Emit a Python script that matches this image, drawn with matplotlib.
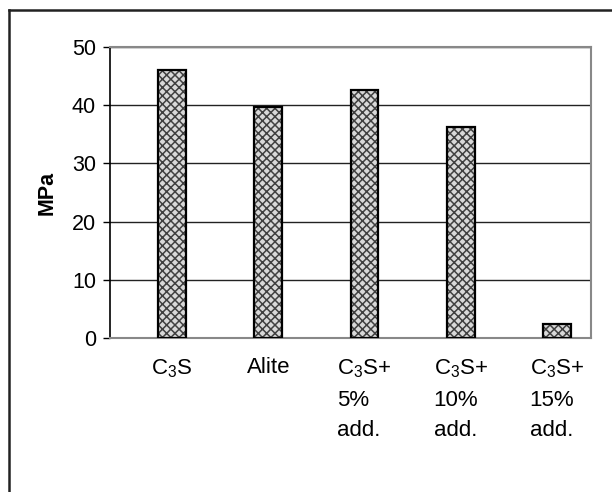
import matplotlib
matplotlib.use("Agg")
import matplotlib.pyplot as plt
from matplotlib.lines import Line2D

plt.rcParams['font.family'] = ['Liberation Sans', 'DejaVu Sans']
plt.rcParams['mathtext.fontset'] = 'custom'
plt.rcParams['mathtext.rm'] = 'Liberation Sans'
plt.rcParams['mathtext.it'] = 'Liberation Sans'
plt.rcParams['hatch.linewidth'] = 1.1

categories = ['C$_3$S', 'Alite', 'C$_3$S+\n5%\nadd.', 'C$_3$S+\n10%\nadd.', 'C$_3$S+\n15%\nadd.']
values = [46.0, 39.7, 42.6, 36.2, 2.4]
yticks = [0, 10, 20, 30, 40, 50]
ylabel = 'MPa'

fig = plt.figure(figsize=(6.12, 4.92), dpi=100)
ax = fig.add_axes([110/612, 1-338/492, (591-110)/612, (338-47)/492])

x = list(range(len(categories)))
ax.bar(x, values, width=0.29, color='#d8d8d8', edgecolor='#404040', hatch='xxxx', linewidth=0, zorder=3)
ax.bar(x, values, width=0.29, fill=False, edgecolor='black', linewidth=1.6, zorder=4)

ax.set_ylim(0, 50)
ax.set_xlim(-0.645, 4.355)
ax.set_yticks(yticks)
ax.yaxis.grid(True, color='#222222', linewidth=1.0, zorder=0)
ax.set_axisbelow(True)

ax.tick_params(axis='y', direction='out', length=5, width=1, pad=5, labelsize=15.5)
ax.set_xticks(x)
ax.set_xticklabels(categories, fontsize=16, linespacing=1.6, ha='center', va='top', multialignment='left')
ax.tick_params(axis='x', length=0, pad=14)

ax.set_ylabel(ylabel, fontsize=15.5, fontweight='bold', labelpad=10)

ax.spines['left'].set_color('black')
ax.spines['left'].set_linewidth(1.2)
for s in ['top', 'right', 'bottom']:
    ax.spines[s].set_color('#888888')
    ax.spines[s].set_linewidth(1.5)

# outer chart border (left and top only visible)
fig.add_artist(Line2D([9/612, 9/612], [0, 1-10/492], transform=fig.transFigure, color='#222222', linewidth=1.8))
fig.add_artist(Line2D([9/612, 1], [1-10/492, 1-10/492], transform=fig.transFigure, color='#222222', linewidth=1.8))

fig.savefig('out.png', dpi=100)
